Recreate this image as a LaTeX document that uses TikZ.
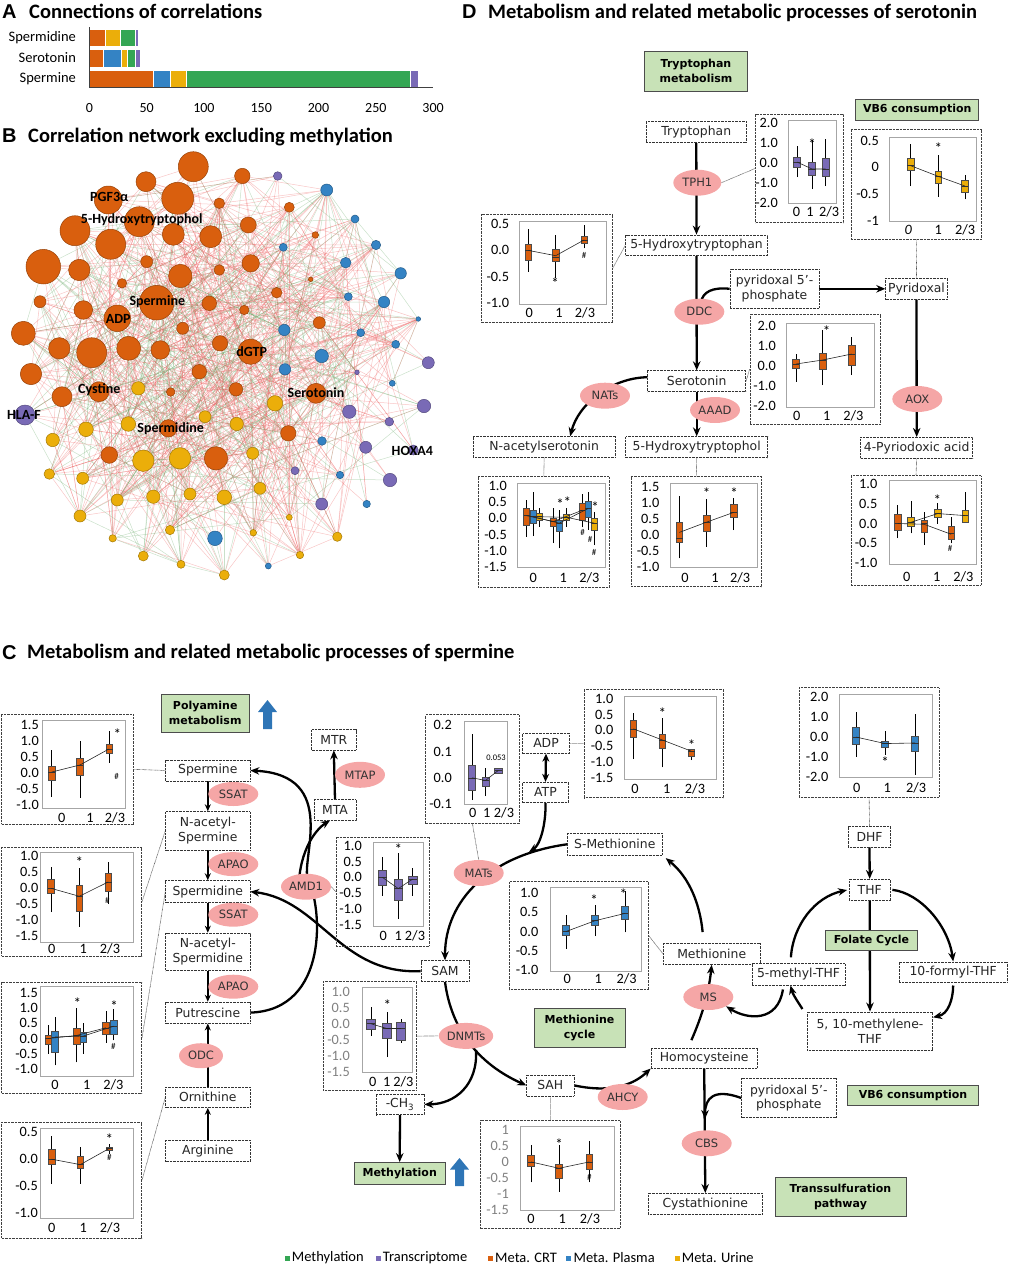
\documentclass[tikz,border=0pt]{standalone}
\usepackage{fontspec}
\setmainfont{Carlito}
\newfontfamily\vfont{DejaVu Sans}
\newfontfamily\lfont{Liberation Sans}
\usetikzlibrary{positioning,shapes.geometric,arrows.meta,fit,backgrounds}

\definecolor{cO}{RGB}{217,95,14}
\definecolor{cB}{RGB}{52,131,196}
\definecolor{cG}{RGB}{52,166,84}
\definecolor{cY}{RGB}{235,174,10}
\definecolor{cP}{RGB}{121,106,182}
\definecolor{pinkE}{RGB}{245,166,166}
\definecolor{gBox}{RGB}{200,226,183}
\definecolor{upBlue}{RGB}{46,117,182}
\definecolor{eRed}{RGB}{236,96,96}
\definecolor{eGreen}{RGB}{105,170,105}

% box plot: x, low whisker, box low, median, box high, high whisker, colour
\newcommand{\bw}{3.4}
\newcommand{\bp}[7]{%
  \draw[line width=0.5pt] (#1,#2) -- (#1,#6);
  \filldraw[fill=#7, draw=black!70, line width=0.5pt] ({#1-\bw},#3) rectangle ({#1+\bw},#5);
  \draw[black!80, line width=0.5pt] ({#1-\bw},#4) -- ({#1+\bw},#4);}
\newcommand{\xtk}[4]{%
  \node[xtk] at (#2,#1) {0};
  \node[xtk] at (#3,#1) {1};
  \node[xtk] at (#4,#1) {2/3};}
\newcommand{\ytk}[3][]{%
  \foreach \yv/\yt in {#3} \node[ytk,#1] at (#2,\yv) {\yt};}

\begin{document}
\begin{tikzpicture}[x=1pt, y=-1pt,
  mbox/.style={draw=black!80, dash pattern=on 0.8pt off 0.6pt, line width=0.7pt, fill=white,
    font=\vfont\fontsize{12.4}{14.5}\selectfont, inner sep=0pt, align=center, text=black!85},
  enz/.style={ellipse, fill=pinkE, draw=none, minimum width=50pt, minimum height=26pt, inner sep=0pt,
    font=\vfont\fontsize{11.5}{12}\selectfont, text=black!80},
  gbox/.style={draw=black!70, line width=0.9pt, fill=gBox, align=center, inner sep=0pt,
    font=\vfont\bfseries\fontsize{11}{15}\selectfont},
  pbox/.style={draw=black!75, dash pattern=on 0.7pt off 0.7pt, line width=0.7pt, inner sep=0pt},
  frm/.style={draw=black!35, line width=0.8pt},
  lnk/.style={draw=black!70, dash pattern=on 0.6pt off 0.6pt, line width=0.6pt},
  rxn/.style={line width=2.3pt, -{Stealth[length=9pt,width=7.5pt]}},
  rxs/.style={line width=1.8pt, -{Stealth[length=7pt,width=6pt]}},
  mln/.style={black!85, line width=0.6pt},
  ytk/.style={anchor=east, inner sep=0pt, font=\fontsize{14.3}{14}\selectfont},
  xtk/.style={inner sep=0pt, font=\fontsize{14.3}{14}\selectfont},
  st/.style={inner sep=0pt, font=\fontsize{15}{15}\selectfont},
  hs/.style={inner sep=0pt, font=\fontsize{9}{9}\selectfont},
  ltr/.style={inner sep=0pt, font=\lfont\bfseries\fontsize{20}{20}\selectfont},
  ttl/.style={inner sep=0pt, font=\bfseries\fontsize{20.5}{22}\selectfont},
  nd/.style={circle, inner sep=0pt, line width=0.5pt},
  nlab/.style={inner sep=0pt, font=\bfseries\fontsize{14}{14}\selectfont},
  edg/.style={line width=0.5pt, opacity=0.36},
  bseg/.style={draw=white, line width=0.6pt},
  btk/.style={inner sep=0pt, font=\fontsize{14}{14}\selectfont},
  blab/.style={anchor=east, inner sep=0pt, font=\fontsize{14.5}{15}\selectfont},
  lgsq/.style={minimum size=5pt, inner sep=0pt},
  lgtx/.style={inner sep=0pt, font=\fontsize{14.5}{15}\selectfont}]
\useasboundingbox (0,0) rectangle (1017,1266);

% ---------------- A: bar chart
\node[ltr, anchor=base west] (lA) at (2,18) {A};
\node[ttl, anchor=base west] (tA) at (29,18) {Connections of correlations};
\begin{scope}[shift={(89.3,0)}, x=1.146pt]
  \fill[bseg, fill=cO] (0,29) rectangle (14,46.7);
  \fill[bseg, fill=cY] (14,29) rectangle (27.4,46.7);
  \fill[bseg, fill=cG] (27.4,29) rectangle (39.9,46.7);
  \fill[bseg, fill=cP] (39.9,29) rectangle (42.5,46.7);
  \fill[bseg, fill=cO] (0,49) rectangle (12.2,67);
  \fill[bseg, fill=cB] (12.2,49) rectangle (28.3,67);
  \fill[bseg, fill=cY] (28.3,49) rectangle (33.5,67);
  \fill[bseg, fill=cG] (33.5,49) rectangle (40.5,67);
  \fill[bseg, fill=cP] (40.5,49) rectangle (44.8,67);
  \fill[bseg, fill=cO] (0,70) rectangle (56.2,87);
  \fill[bseg, fill=cB] (56.2,70) rectangle (70.4,87);
  \fill[bseg, fill=cY] (70.4,70) rectangle (85,87);
  \fill[bseg, fill=cG] (85,70) rectangle (280.4,87);
  \fill[bseg, fill=cP] (280.4,70) rectangle (286.8,87);
  \draw[black!75, line width=0.8pt] (0,27) -- (0,87.5) -- (300,87.5);
  \foreach \v in {0,50,...,300} \node[btk] at (\v,108) {\v};
  \node[blab] (bSpd) at (-11.5,38) {Spermidine};
  \node[blab] (bSer) at (-11.5,58) {Serotonin};
  \node[blab] (bSpm) at (-11.5,78.5) {Spermine};
\end{scope}

% ---------------- B: network
\node[ltr, anchor=base west] (lB) at (2,142.5) {B};
\node[ttl, anchor=base west] (tB) at (28,142) {Correlation network excluding methylation};
\foreach \x/\y/\r/\c [count=\i] in {
  193.3/166.7/15/cO, 146/181.7/10/cO, 242.3/176/7.7/cO, 177.7/198.3/16/cO, 108.3/200/14/cO,
  219.3/203.3/5.3/cO, 289.3/207.3/5/cO, 75/230.7/15/cO, 139.3/221.7/15/cO, 173.3/234.3/11/cO,
  210.7/236.7/11/cO, 248.3/225/8/cO, 110.7/244.3/15/cO, 43.3/266.7/17.3/cO, 79.3/270/10.7/cO,
  146.7/261.7/6/cO, 180.3/276/11.7/cO, 219.3/270/5.3/cO, 250.7/263.3/8.7/cO, 315.3/235/3.3/cO,
  122/283.3/4.7/cO, 156.7/302.7/17.3/cO, 40/301.7/6/cO, 83.3/310/9.3/cO, 117.3/318.3/13.3/cO,
  209.3/303.3/7.3/cO, 244.3/310/4.7/cO, 276.7/292.7/5.3/cO, 310.7/279.3/2.3/cO, 23.3/333.3/12/cO,
  182.7/328.3/6/cO, 59.3/348.3/10.7/cO, 91.7/352.7/15/cO, 128.7/348.3/12/cO, 160.3/350/9.3/cO,
  220/343.3/7.7/cO, 250.7/351.7/12.7/cO, 319.3/322.7/6/cO, 31/374/10.7/cO, 199.3/371.7/7.3/cO,
  62/396.7/10/cO, 99/391.7/10/cO, 170.7/392/4.3/cO, 236/389.3/6.7/cO, 316/393.3/10/cO,
  168.3/428.3/8.7/cO, 288.3/433.3/7.7/cO, 109.3/455/8.3/cO, 216/458.3/11.7/cO,
  138.3/388.3/6.7/cY, 275/403.3/7.7/cY, 52.7/440/6.7/cY, 86/429.3/7.3/cY, 128.3/424/7.3/cY,
  205/416.7/6/cY, 236.7/424/6.7/cY, 143.3/460.7/10.7/cY, 180/458.3/10.7/cY, 252.7/453.3/6/cY,
  49.3/474/5.3/cY, 82.7/478.3/6/cY, 117.3/500/6/cY, 153.3/496.7/6.7/cY, 190/494/6/cY,
  224.3/497.3/7.3/cY, 260/488.3/6/cY, 80/516/6/cY, 170/530/4.7/cY, 112.7/538.3/3.7/cY,
  143.3/556/5/cY, 181/564.3/4/cY, 224.3/575/5/cY, 253.3/532.7/3.3/cY, 289.3/517.3/3/cY,
  300/555/3.7/cY, 337.3/536.7/4.7/cY,
  326.7/190/6/cB, 355/219/4/cB, 283.3/247.3/4/cB, 376/245/4.7/cB, 345.7/262.7/5.3/cB,
  400.7/273.3/5.7/cB, 348.3/296.7/4/cB, 384/302/5.7/cB, 418.3/319/2.3/cB, 284.3/330/5.7/cB,
  360.7/332.7/4/cB, 395.7/344.3/4/cB, 321.7/356/6.7/cB, 285/369.3/5.7/cB, 392.3/383.3/3/cB,
  322/441/4.3/cB, 340/475/3.7/cB, 366.7/504/3.7/cB, 215/538.3/7.3/cB, 268.3/566/3/cB,
  277.7/176/4.3/cP, 25/415/10/cP, 428.3/362.7/6/cP, 357/372.3/2.3/cP, 349.3/411.7/6.7/cP,
  424/406/6.7/cP, 389.3/421.7/4.3/cP, 365.7/447.3/6/cP, 413.3/450/5/cP, 295/470.7/4/cP,
  390/480/6.7/cP, 321.7/504/6/cP}
  \node[nd, fill=\c, draw=\c!70!black, minimum size=2*\r] (n\i) at (\x,\y) {};
\begin{scope}[on background layer]
  \pgfmathsetseed{11}
  \foreach \k in {1,...,850}{
    \pgfmathrandominteger{\ea}{1}{108}
    \pgfmathrandominteger{\eb}{1}{90}
    \pgfmathrandominteger{\ec}{0}{2}
    \ifnum\ea=\eb\relax\else
      \ifnum\ec=0 \draw[edg, eGreen] (n\ea) -- (n\eb);
      \else \draw[edg, eRed] (n\ea) -- (n\eb); \fi
    \fi}
\end{scope}
\node[nlab] (kPgf) at (109.3,197.3) {PGF3α};
\node[nlab] (kHtol) at (141.7,220) {5-Hydroxytryptophol};
\node[nlab] (kSpm) at (157.3,301.7) {Spermine};
\node[nlab] (kAdp) at (118.3,319) {ADP};
\node[nlab] (kDgtp) at (251.7,351.7) {dGTP};
\node[nlab] (kCys) at (99.3,389.3) {Cystine};
\node[nlab] (kSer) at (316,392.7) {Serotonin};
\node[nlab] (kHla) at (24,415) {HLA-F};
\node[nlab] (kSpd) at (170.7,428.3) {Spermidine};
\node[nlab] (kHox) at (412.3,451) {HOXA4};

% ---------------- D: serotonin
\node[ltr, anchor=base west] (lD) at (462,18) {D};
\node[ttl, anchor=base west] (tD) at (488,18) {Metabolism and related metabolic processes of serotonin};
\node[gbox, minimum width=103.4, minimum height=39.3] (gTrp) at (696,71.3) {Tryptophan\\metabolism};
\node[gbox, minimum width=123, minimum height=20.7] (gVb1) at (917.2,109.7) {VB6 consumption};
\node[mbox, minimum width=100.7, minimum height=21] (trp) at (696.3,132.2) {Tryptophan};
\node[mbox, minimum width=141.7, minimum height=20.7] (htp) at (696.5,245.3) {5-Hydroxytryptophan};
\node[mbox, minimum width=89, minimum height=39] (plp1) at (774.5,288.8) {pyridoxal 5’-\\phosphate};
\node[mbox, minimum width=61.7, minimum height=21] (pyr) at (916.5,288.8) {Pyridoxal};
\node[mbox, minimum width=98, minimum height=21] (ser) at (696.7,381.2) {Serotonin};
\node[mbox, minimum width=141.7, minimum height=20.7] (nas) at (544.2,447) {N-acetylserotonin};
\node[mbox, minimum width=142, minimum height=21] (htol) at (696.7,447.2) {5-Hydroxytryptophol};
\node[mbox, minimum width=112, minimum height=21] (pa) at (916.7,447.8) {4-Pyriodoxic acid};
\node[enz, minimum width=48pt] (tph) at (697.3,182.7) {TPH1};
\node[enz] (ddc) at (699.3,311.7) {DDC};
\node[enz] (nat) at (605,395.7) {NATs};
\node[enz] (aaad) at (715,410) {AAAD};
\node[enz] (aox) at (917.3,399) {AOX};

% TPH1 plot
\node[pbox, fit={(755.7,114) (843,222.7)}] (pTph) {};
\draw[frm] (788,120) rectangle (836,203);
\begin{scope}[shift={(0,163)}, y=20pt]
  \renewcommand{\bw}{3.7}
  \ytk{778}{2/2.0,1/1.0,0/0.0,-1/-1.0,-2/-2.0}
  \bp{797}{-0.7}{-0.2}{0.05}{0.3}{0.85}{cP}
  \bp{812}{-1.3}{-0.6}{-0.3}{0.05}{1.15}{cP}
  \bp{825.5}{-1.15}{-0.65}{-0.3}{0.25}{1.2}{cP}
  \draw[mln] (797,0.05) -- (812,-0.3) -- (825.5,-0.3);
  \node[st] at (812,0.95) {*};
\end{scope}
\xtk{212}{796.5}{810}{829}

% 5-hydroxytryptophan plot
\node[pbox, fit={(481.7,214) (612.3,322.7)}] (pHtp) {};
\draw[frm] (519.3,221) rectangle (606.7,304);
\begin{scope}[shift={(0,250.4)}, y=52.9pt]
  \ytk{509.3}{0.5/0.5,0/0.0,-0.5/-0.5,-1/-1.0}
  \bp{528.3}{-0.4}{-0.18}{0}{0.115}{0.4}{cO}
  \bp{555.7}{-0.52}{-0.2}{-0.12}{0.02}{0.3}{cO}
  \bp{584.3}{0.04}{0.13}{0.2}{0.27}{0.48}{cO}
  \draw[mln] (528.3,0) -- (555.7,-0.1) -- (584.3,0.2);
  \node[st] at (555,-0.62) {*};
  \node[hs] at (584,-0.1) {\#};
\end{scope}
\xtk{313.3}{529.3}{559}{585}

% VB6 plot
\node[pbox, fit={(851,129) (981.7,239)}] (pVb) {};
\draw[frm] (889,137.3) rectangle (976,221.7);
\begin{scope}[shift={(0,167.3)}, y=53.5pt]
  \ytk{879}{0.5/0.5,0/0,-0.5/-0.5,-1/-1}
  \bp{910.7}{-0.35}{-0.06}{0.03}{0.17}{0.43}{cY}
  \bp{938.3}{-0.55}{-0.3}{-0.17}{-0.08}{0.23}{cY}
  \bp{965}{-0.6}{-0.47}{-0.35}{-0.24}{-0.14}{cY}
  \draw[mln] (910.7,0.03) -- (938.3,-0.17) -- (965,-0.35);
  \node[st] at (938.3,0.35) {*};
\end{scope}
\node[xtk] at (908.3,230) {\itshape 0};
\node[xtk] at (938.3,230) {1};
\node[xtk] at (965,230) {2/3};

% serotonin plot
\node[pbox, fit={(750,314.3) (880.7,424)}] (pSer) {};
\draw[frm] (786.7,323.3) rectangle (874,407.3);
\begin{scope}[shift={(0,366)}, y=20pt]
  \ytk{776}{2/2.0,1/1.0,0/0.0,-1/-1.0,-2/-2.0}
  \bp{796}{-0.78}{-0.12}{0.1}{0.33}{0.6}{cO}
  \bp{822.7}{-0.95}{-0.15}{0.3}{0.63}{1.8}{cO}
  \bp{851.7}{-0.45}{0.02}{0.6}{1.05}{1.47}{cO}
  \draw[mln] (796,0.1) -- (822.7,0.3) -- (851.7,0.6);
  \node[st] at (826.5,1.75) {*};
\end{scope}
\xtk{416}{796.7}{826.7}{853.3}

% N-acetylserotonin plot
\node[pbox, fit={(478.3,476.7) (609.3,587.3)}] (pNas) {};
\draw[frm] (517.7,483.3) rectangle (605,567.3);
\begin{scope}[shift={(0,518.3)}, y=32.3pt]
  \renewcommand{\bw}{3}
  \ytk{507}{1/1.0,0.5/0.5,0/0.0,-0.5/-0.5,-1/-1.0,-1.5/-1.5}
  \bp{526.7}{-0.57}{-0.21}{0.08}{0.31}{0.57}{cO}
  \bp{533}{-0.55}{-0.15}{0.05}{0.26}{0.82}{cB}
  \bp{538.8}{-0.26}{-0.05}{0.05}{0.15}{0.31}{cY}
  \bp{553.3}{-0.77}{-0.26}{-0.1}{0}{0.31}{cO}
  \bp{559.3}{-0.93}{-0.41}{-0.15}{-0.05}{0.26}{cB}
  \bp{566.7}{-0.26}{-0.05}{0.03}{0.12}{0.31}{cY}
  \bp{582.3}{-0.28}{-0.05}{0.25}{0.46}{0.75}{cO}
  \bp{588}{-0.36}{0.02}{0.3}{0.54}{0.82}{cB}
  \bp{594.2}{-0.83}{-0.36}{-0.15}{0}{0.2}{cY}
  \draw[mln] (526.7,0.08) -- (553.3,-0.1) -- (582.3,0.25);
  \draw[mln] (533,0.05) -- (559.3,-0.15) -- (588,0.3);
  \draw[mln] (538.8,0.05) -- (566.7,0.03) -- (594.2,-0.15);
  \node[st] at (560,0.44) {*};
  \node[st] at (567.3,0.51) {*};
  \node[st] at (595,0.34) {*};
  \node[hs] at (582.7,-0.45) {\#};
  \node[hs] at (590,-0.65) {\#};
  \node[hs] at (594,-1.07) {\#};
\end{scope}
\xtk{578.3}{533.3}{563.3}{589.3}

% 5-hydroxytryptophol plot
\node[pbox, fit={(631,476.7) (761.7,586.7)}] (pHtol) {};
\draw[frm] (670,483.3) rectangle (757.7,567.3);
\begin{scope}[shift={(0,535)}, y=32.3pt]
  \ytk{659.5}{1.5/1.5,1/1.0,0.5/0.5,0/0.0,-0.5/-0.5,-1/-1.0}
  \bp{679.3}{-0.72}{-0.21}{-0.1}{0.38}{1.21}{cO}
  \bp{706.7}{-0.36}{0.13}{0.4}{0.62}{1.1}{cO}
  \bp{733.7}{0.15}{0.55}{0.7}{0.95}{1.14}{cO}
  \draw[mln] (679.3,0.08) -- (706.7,0.4) -- (733.7,0.7);
  \node[st] at (706.7,1.28) {*};
  \node[st] at (734,1.3) {*};
\end{scope}
\xtk{578.3}{685}{715}{740}

% 4-pyridoxic acid plot
\node[pbox, fit={(851,475.7) (981,585)}] (pPa) {};
\draw[frm] (889,480.7) rectangle (976.7,564);
\begin{scope}[shift={(0,523.5)}, y=39.7pt]
  \renewcommand{\bw}{3.2}
  \ytk{877.5}{1/1.0,0.5/0.5,0/0.0,-0.5/-0.5,-1/-1.0}
  \bp{897.7}{-0.37}{-0.16}{0}{0.23}{0.47}{cO}
  \bp{910.8}{-0.25}{-0.08}{0.03}{0.17}{0.57}{cY}
  \bp{924.2}{-0.54}{-0.21}{0}{0.09}{0.3}{cO}
  \bp{937.7}{0}{0.16}{0.25}{0.37}{0.51}{cY}
  \bp{951}{-0.5}{-0.4}{-0.25}{-0.06}{0.17}{cO}
  \bp{965}{0.02}{0.02}{0.2}{0.34}{0.8}{cY}
  \draw[mln] (897.7,0) -- (924.2,-0.02) -- (951,-0.27);
  \draw[mln] (910.8,0.03) -- (937.7,0.25) -- (965,0.2);
  \node[st] at (937.3,0.58) {*};
  \node[hs] at (950,-0.63) {\#};
\end{scope}
\xtk{576.7}{906.7}{936.7}{963.3}

% ---------------- C: spermine
\node[ltr, anchor=base west] (lC) at (2,659) {C};
\node[ttl, anchor=base west] (tC) at (27,658) {Metabolism and related metabolic processes of spermine};
\node[gbox, minimum width=88.3, minimum height=37.6] (gPoly) at (205.2,713.2) {Polyamine\\metabolism};
\node[mbox, minimum width=84.3, minimum height=21] (spm) at (207.8,770.5) {Spermine};
\node[mbox, minimum width=84.3, minimum height=38.4] (nspm) at (207.8,830.8) {N-acetyl-\\Spermine};
\node[mbox, minimum width=84.3, minimum height=21.9] (spd) at (207.8,891.6) {Spermidine};
\node[mbox, minimum width=84.3, minimum height=37.5] (nspd) at (207.8,951.8) {N-acetyl-\\Spermidine};
\node[mbox, minimum width=84.3, minimum height=21] (put) at (207.8,1012.6) {Putrescine};
\node[mbox, minimum width=84.3, minimum height=20.3] (orn) at (207.8,1097.3) {Ornithine};
\node[mbox, minimum width=84.3, minimum height=21.8] (arg) at (207.8,1150.9) {Arginine};
\node[enz, minimum height=24pt] (ssat1) at (233.3,794) {SSAT};
\node[enz, minimum height=24pt] (apao1) at (233.3,864.1) {APAO};
\node[enz, minimum height=24pt] (ssat2) at (233.3,914.7) {SSAT};
\node[enz, minimum height=24pt] (apao2) at (233.3,986.7) {APAO};
\node[enz, minimum width=44pt, minimum height=25pt] (odc) at (201,1055.7) {ODC};

\node[mbox, minimum width=44.3, minimum height=20.4] (mtr) at (333.8,739.8) {MTR};
\node[mbox, minimum width=42, minimum height=20.4] (mta) at (335,809.8) {MTA};
\node[mbox, minimum width=46.6, minimum height=20] (adp) at (546,743.3) {ADP};
\node[mbox, minimum width=45.6, minimum height=20.4] (atp) at (545.5,792.4) {ATP};
\node[mbox, minimum width=95, minimum height=21.9] (smet) at (614.8,844.3) {S-Methionine};
\node[mbox, minimum width=48, minimum height=20.8] (sam) at (445,971.1) {SAM};
\node[mbox, minimum width=47.3, minimum height=21.1] (sah) at (550.3,1085.4) {SAH};
\node[mbox, minimum width=48, minimum height=20.7] (ch) at (400,1104.4) {-CH\textsubscript{3}};
\node[gbox, minimum width=90.7, minimum height=21.5] (gMeth) at (399.7,1173.3) {Methylation};
\node[gbox, minimum width=91, minimum height=39] (gMet) at (579.5,1027.5) {Methionine\\cycle};
\node[mbox, minimum width=96.7, minimum height=21.1] (met) at (711.7,953.9) {Methionine};
\node[mbox, minimum width=106.3, minimum height=20.3] (hcy) at (704.2,1058) {Homocysteine};
\node[mbox, minimum width=94.3, minimum height=38.9] (plp2) at (788.8,1098) {pyridoxal 5’-\\phosphate};
\node[gbox, minimum width=130.6, minimum height=20] (gVb2) at (913,1095.2) {VB6 consumption};
\node[mbox, minimum width=114, minimum height=21.1] (cys) at (705.3,1203.9) {Cystathionine};
\node[gbox, minimum width=131, minimum height=38.5] (gTrans) at (840.5,1197) {Transsulfuration\\pathway};
\node[mbox, minimum width=42.4, minimum height=20.3] (dhf) at (869.5,836.8) {DHF};
\node[mbox, minimum width=40.7, minimum height=20.7] (thf) at (869.7,889.6) {THF};
\node[gbox, minimum width=91.6, minimum height=20.3] (gFol) at (871.5,940.5) {Folate Cycle};
\node[mbox, minimum width=108.3, minimum height=20.3] (fthf) at (953.2,972) {10-formyl-THF};
\node[mbox, minimum width=125.4, minimum height=38.8] (mthf) at (870,1031.3) {5, 10-methylene-\\THF};
\node[mbox, minimum width=93, minimum height=21.5] (methf) at (798.5,974.4) {5-methyl-THF};
\node[enz] (mtap) at (360,774.8) {MTAP};
\node[enz] (amd) at (306,886.7) {AMD1};
\node[enz] (mat) at (478.7,873) {MATs};
\node[enz, minimum width=54pt] (dnmt) at (466,1035.9) {DNMTs};
\node[enz] (ahcy) at (622.7,1097) {AHCY};
\node[enz] (ms) at (708.3,997) {MS};
\node[enz] (cbs) at (706.7,1143.3) {CBS};
\coordinate (amdj) at (299,880);
\coordinate (atpj) at (529,852);
\coordinate (dnj) at (476,1050);
\coordinate (cbsj) at (705,1119);

% blue up arrows
\fill[upBlue] (263,729) -- (263,712) -- (258,712) -- (267.5,700) -- (277,712) -- (272,712) -- (272,729) -- cycle;
\fill[upBlue] (455,1186) -- (455,1169.5) -- (450,1169.5) -- (459.5,1158) -- (469,1169.5) -- (464,1169.5) -- (464,1186) -- cycle;

% spermine plot
\node[pbox, fit={(1.7,714.7) (133.3,823.9)}] (pSpm) {};
\draw[frm] (42.7,720.5) rectangle (125,808.6);
\begin{scope}[shift={(0,773)}, y=32.2pt]
  \ytk{39}{1.5/1.5,1/1.0,0.5/0.5,0/0.0,-0.5/-0.5,-1/-1.0}
  \bp{51.7}{-0.73}{-0.21}{0.03}{0.2}{0.7}{cO}
  \bp{80}{-0.77}{-0.06}{0.25}{0.46}{0.98}{cO}
  \bp{109.2}{0.32}{0.6}{0.75}{0.89}{1.31}{cO}
  \draw[mln] (51.7,0.03) -- (80,0.25) -- (109.2,0.75);
  \node[st] at (117.3,1.2) {*};
  \node[hs] at (116.7,-0.1) {\#};
\end{scope}
\xtk{818}{61.7}{90}{115}

% N-acetyl-spermine plot
\node[pbox, fit={(1.7,846.9) (141.7,956)}] (pNspm) {};
\draw[frm] (40.7,852.6) rectangle (133,942);
\begin{scope}[shift={(0,888.3)}, y=31.9pt]
  \ytk{38.5}{1/1.0,0.5/0.5,0/0.0,-0.5/-0.5,-1/-1.0,-1.5/-1.5}
  \bp{51}{-0.75}{-0.14}{0}{0.28}{0.66}{cO}
  \bp{79.3}{-1.2}{-0.72}{-0.25}{0.1}{0.64}{cO}
  \bp{108.3}{-0.48}{-0.08}{0.2}{0.46}{0.84}{cO}
  \draw[mln] (51,0) -- (79.3,-0.25) -- (108.3,0.2);
  \node[st] at (79.3,0.82) {*};
  \node[hs] at (107.3,-0.38) {\#};
\end{scope}
\xtk{948.5}{51.7}{83.3}{110}

% spermidine plot
\node[pbox, fit={(1.7,982.1) (141.7,1093.3)}] (pSpd) {};
\draw[frm] (40,986.7) rectangle (133,1076.6);
\begin{scope}[shift={(0,1038.5)}, y=30.7pt]
  \renewcommand{\bw}{3.3}
  \ytk{38}{1.5/1.5,1/1.0,0.5/0.5,0/0.0,-0.5/-0.5,-1/-1.0}
  \bp{48.3}{-0.5}{-0.19}{0}{0.1}{0.44}{cO}
  \bp{55}{-0.875}{-0.44}{0.05}{0.25}{0.69}{cB}
  \bp{76.7}{-0.78}{-0.19}{0.1}{0.34}{1.0}{cO}
  \bp{83.3}{-0.5}{-0.12}{0.08}{0.19}{0.5}{cB}
  \bp{106}{-0.13}{0.13}{0.35}{0.54}{0.9}{cO}
  \bp{113.7}{-0.06}{0.13}{0.4}{0.6}{0.96}{cB}
  \draw[mln] (48.3,0) -- (76.7,0.1) -- (106,0.35);
  \draw[mln] (55,0.05) -- (83.3,0.08) -- (113.7,0.4);
  \node[st] at (77.3,1.16) {*};
  \node[st] at (114,1.04) {*};
  \node[hs] at (113.3,-0.25) {\#};
\end{scope}
\xtk{1084.4}{55}{86.7}{113.3}

% ornithine plot
\node[pbox, fit={(1.7,1122) (141.7,1238)}] (pOrn) {};
\draw[frm] (40,1128.5) rectangle (133,1218);
\begin{scope}[shift={(0,1159.2)}, y=54pt]
  \ytk{38}{0.5/0.5,0/0.0,-0.5/-0.5,-1/-1.0}
  \bp{51.7}{-0.45}{-0.09}{0}{0.18}{0.43}{cO}
  \bp{80.3}{-0.45}{-0.16}{-0.1}{0.05}{0.23}{cO}
  \bp{109.3}{0.1}{0.16}{0.2}{0.23}{0.28}{cO}
  \draw[mln] (51.7,0) -- (80.3,-0.1) -- (109.3,0.2);
  \node[st] at (109.3,0.38) {*};
  \node[hs] at (109.3,0.03) {\#};
\end{scope}
\xtk{1228}{51.7}{83.3}{110}

% AMD1 plot
\node[pbox, fit={(336,837) (429.3,946)}] (pAmd) {};
\draw[frm] (373.3,842.6) rectangle (423.3,926.7);
\begin{scope}[shift={(0,877.4)}, y=31.9pt]
  \renewcommand{\bw}{4.2}
  \ytk{362}{1/1.0,0.5/0.5,0/0.0,-0.5/-0.5,-1/-1.0,-1.5/-1.5}
  \bp{382.5}{-0.58}{-0.24}{0}{0.22}{0.64}{cP}
  \bp{398.3}{-1.31}{-0.73}{-0.35}{-0.06}{0.76}{cP}
  \bp{412.7}{-0.58}{-0.21}{-0.05}{0.05}{0.31}{cP}
  \draw[mln] (382.5,0) -- (398.3,-0.35) -- (412.7,-0.05);
  \node[st] at (398.3,0.9) {*};
\end{scope}
\xtk{936}{383.3}{398.3}{415}

% MATs plot
\node[pbox, fit={(425.7,714.8) (519.3,823.7)}] (pMat) {};
\draw[frm] (464,721.1) rectangle (507.3,804.4);
\begin{scope}[shift={(0,777.8)}, y=263pt]
  \renewcommand{\bw}{3.7}
  \ytk{452}{0.2/0.2,0.1/0.1,0/0.0,-0.1/-0.1}
  \bp{472}{-0.085}{-0.048}{0}{0.046}{0.166}{cP}
  \bp{485.5}{-0.07}{-0.031}{-0.01}{0.004}{0.037}{cP}
  \bp{498.3}{0.018}{0.018}{0.028}{0.037}{0.037}{cP}
  \draw[mln] (472,0) -- (485.5,-0.01) -- (498.3,0.028);
  \node[inner sep=0pt, font=\fontsize{8.5}{8}\selectfont] (pv) at (496,0.075) {0.053};
\end{scope}
\xtk{812.6}{472.7}{486.7}{504}

% ADP plot
\node[pbox, fit={(584.3,688.9) (723.3,797.8)}] (pAdp) {};
\draw[frm] (624,695.9) rectangle (716.7,779.6);
\begin{scope}[shift={(0,730.4)}, y=31.9pt]
  \ytk{613.5}{1/1.0,0.5/0.5,0/0.0,-0.5/-0.5,-1/-1.0,-1.5/-1.5}
  \bp{633.3}{-0.9}{-0.21}{0.05}{0.31}{0.55}{cO}
  \bp{662.3}{-1.16}{-0.55}{-0.3}{-0.12}{0.4}{cO}
  \bp{691.3}{-0.93}{-0.81}{-0.65}{-0.58}{-0.58}{cO}
  \draw[mln] (633.3,0.05) -- (662.3,-0.3) -- (691.3,-0.65);
  \node[st] at (662.3,0.54) {*};
  \node[st] at (691.7,-0.45) {*};
\end{scope}
\xtk{788.5}{635}{666.7}{695}

% methionine plot
\node[pbox, fit={(509.3,881.5) (648.3,989.6)}] (pMet) {};
\draw[frm] (550,887.8) rectangle (641.7,971.1);
\begin{scope}[shift={(0,931.5)}, y=38.5pt]
  \ytk{538.5}{1/1.0,0.5/0.5,0/0.0,-0.5/-0.5,-1/-1.0}
  \bp{566}{-0.45}{-0.09}{0}{0.17}{0.43}{cB}
  \bp{595}{-0.12}{0.17}{0.28}{0.41}{0.7}{cB}
  \bp{625}{-0.02}{0.32}{0.47}{0.65}{1.04}{cB}
  \draw[mln] (566,0) -- (595,0.28) -- (625,0.47);
  \node[st] at (594,0.81) {*};
  \node[st] at (623.3,0.96) {*};
\end{scope}
\xtk{979.3}{567.3}{598.3}{626.7}

% DNMTs plot
\node[pbox, fit={(323.3,981.5) (416.7,1090.7)}] (pDnmt) {};
\draw[frm] (362.7,987.8) rectangle (412.7,1071.9);
\begin{scope}[shift={(0,1023.7)}, y=32.1pt]
  \renewcommand{\bw}{4.2}
  \ytk[text=black!50]{350}{1/1.0,0.5/0.5,0/0.0,-0.5/-0.5,-1/-1.0,-1.5/-1.5}
  \bp{370.8}{-0.38}{-0.18}{0}{0.14}{0.51}{cP}
  \bp{386.8}{-1.04}{-0.44}{-0.15}{0.02}{0.37}{cP}
  \bp{400.8}{-0.59}{-0.5}{-0.15}{0.05}{0.16}{cP}
  \draw[mln] (370.8,0) -- (386.8,-0.15) -- (400.8,-0.15);
  \node[st] at (387.3,0.58) {*};
\end{scope}
\xtk{1082}{372.7}{386.7}{403.3}

% SAH plot
\node[pbox, fit={(480.7,1120.4) (620,1228.5)}] (pSah) {};
\draw[frm] (520.7,1126.7) rectangle (614,1210);
\begin{scope}[shift={(0,1161.9)}, y=31.9pt]
  \ytk[text=black!50]{509}{1/1,0.5/0.5,0/0,-0.5/-0.5,-1/-1,-1.5/-1.5}
  \bp{531}{-0.64}{-0.15}{0}{0.2}{0.52}{cO}
  \bp{559}{-0.93}{-0.52}{-0.2}{-0.06}{0.52}{cO}
  \bp{589.3}{-0.64}{-0.23}{0}{0.23}{0.66}{cO}
  \draw[mln] (531,0) -- (559,-0.2) -- (589.3,0);
  \node[st] at (559,0.56) {*};
  \node[hs] at (589.3,-0.5) {\#};
\end{scope}
\xtk{1219.3}{531}{562.3}{590}

% DHF plot
\node[pbox, fit={(799.3,687.8) (939,797)}] (pDhf) {};
\draw[frm] (839.3,694) rectangle (932.7,777.8);
\begin{scope}[shift={(0,737)}, y=19.9pt]
  \renewcommand{\bw}{3.5}
  \ytk{828.5}{2/2.0,1/1.0,0/0.0,-1/-1.0,-2/-2.0}
  \bp{856}{-1.0}{-0.37}{0}{0.47}{1.27}{cB}
  \bp{885}{-0.88}{-0.5}{-0.33}{-0.19}{0.28}{cB}
  \bp{915}{-1.9}{-0.74}{-0.3}{0.06}{1.17}{cB}
  \draw[mln] (856,0) -- (885,-0.33) -- (915,-0.3);
  \node[st] at (885,-1.25) {*};
\end{scope}
\xtk{787.8}{856.7}{887.3}{916}

% ---------------- connectors (behind the boxes and enzymes)
\begin{scope}[on background layer]
  % D
  \draw[rxn] (trp.south) -- (htp.north);
  \draw[rxn] (htp.south) -- (ser.north);
  \draw[rxn] (ser.south) -- (htol.north);
  \draw[rxn] (pyr.south) -- (pa.north);
  \draw[rxn] (plp1.east) -- (pyr.west);
  \draw[line width=2.3pt] (plp1.west) .. controls (712,287) and (703,292) .. (701,302);
  \draw[rxn] ([yshift=4pt]ser.west) .. controls (610,378) and (578,405) .. ([xshift=26pt]nas.north);
  \draw[lnk] (tph.east) -- (pTph.west);
  \draw[lnk] (pHtp.east) -- (htp.west);
  \draw[lnk] (pVb.south) -- (pyr.north);
  \draw[lnk] (ser.east) -- (pSer.west);
  \draw[lnk] (nas.south) -- (pNas.north);
  \draw[lnk] (htol.south) -- (pHtol.north);
  \draw[lnk] (pa.south) -- (pPa.north);
  % C: polyamines
  \draw[rxs] (spm.south) -- (nspm.north);
  \draw[rxs] (nspm.south) -- (spd.north);
  \draw[rxs] (spd.south) -- (nspd.north);
  \draw[rxs] (nspd.south) -- (put.north);
  \draw[rxs] (orn.north) -- (put.south);
  \draw[rxs] (arg.north) -- (orn.south);
  \draw[rxn] (put.east) .. controls (330,1010) and (322,905) .. (308,880) .. controls (300,860) and (340,775) .. (spm.east);
  \draw[rxn] (sam.west) .. controls (340,975) and (320,900) .. (spd.east);
  \draw[rxn] (amdj) .. controls (302,845) and (318,828) .. ([xshift=-5pt]mta.south);
  \draw[rxn] (mta.north) -- (mtr.south);
  % C: methionine cycle
  \draw[rxn, {Stealth[length=8pt,width=7pt]}-{Stealth[length=8pt,width=7pt]}] (adp.south) -- (atp.north);
  \draw[rxn] (atp.south) .. controls (546,825) and (540,845) .. (atpj);
  \draw[rxn] (smet.west) .. controls (490,855) and (445,900) .. (sam.north);
  \draw[rxn] (sam.south) .. controls (450,1020) and (470,1060) .. (sah.west);
  \draw[rxn] (dnj) .. controls (478,1085) and (455,1104) .. (ch.east);
  \draw[rxn] (ch.south) -- (gMeth.north);
  \draw[rxn] (sah.east) .. controls (605,1092) and (630,1088) .. (hcy.south west);
  \draw[rxn, shorten <=8pt] ([xshift=-16pt]hcy.north) .. controls (698,1025) and (708,1000) .. (met.south);
  \draw[rxn, shorten <=11pt, shorten >=4pt] ([xshift=-8pt]met.north) .. controls (700,905) and (690,878) .. (smet.south east);
  \draw[rxn] (hcy.south) -- (cys.north);
  \draw[rxn] (plp2.west) .. controls (714,1088) and (705,1098) .. (cbsj);
  % C: folate cycle
  \draw[rxn] (dhf.south) -- (thf.north);
  \draw[rxn] (thf.south) -- (mthf.north);
  \draw[rxn, shorten <=2pt] (thf.east) .. controls (920,893) and (948,925) .. (fthf.north);
  \draw[rxn, shorten <=3pt] (fthf.south) .. controls (953,1000) and (948,1014) .. ([yshift=14pt]mthf.east);
  \draw[rxn, shorten <=3pt] ([xshift=-3pt]mthf.north west) .. controls (800,1005) and (793,995) .. ([xshift=-8pt]methf.south);
  \draw[rxn, shorten <=6pt, shorten >=2pt] ([xshift=-8pt]methf.north) .. controls (793,925) and (815,897) .. (thf.west);
  \draw[rxn, shorten <=4pt] ([xshift=-15pt]methf.south) .. controls (778,1022) and (748,1020) .. (ms.south east);
  % C: plot links
  \draw[lnk] (pSpm.east) -- (spm.west);
  \draw[lnk] (pNspm.east) -- (nspm.west);
  \draw[lnk] (pSpd.east) -- (spd.west);
  \draw[lnk] (pOrn.east) -- (orn.west);
  \draw[lnk] (amd.east) -- (pAmd.west);
  \draw[lnk] (pMat.south) -- (mat.north);
  \draw[lnk] (adp.east) -- (pAdp.west);
  \draw[lnk] (pMet.east) -- (met.west);
  \draw[lnk] (pDnmt.east) -- (dnmt.west);
  \draw[lnk] (sah.south) -- (pSah.north);
  \draw[lnk] (pDhf.south) -- (dhf.north);
\end{scope}

% ---------------- legend
\node[lgsq, fill=cG] (q1) at (287,1258) {};
\node[lgtx, right=2pt of q1] (t1) {Methylation};
\node[lgsq, fill=cP] (q2) at (378,1258) {};
\node[lgtx, right=2pt of q2] (t2) {Transcriptome};
\node[lgsq, fill=cO] (q3) at (490.3,1258) {};
\node[lgtx, right=2pt of q3] (t3) {Meta. CRT};
\node[lgsq, fill=cB] (q4) at (568.7,1258) {};
\node[lgtx, right=2pt of q4] (t4) {Meta. Plasma};
\node[lgsq, fill=cY] (q5) at (677,1258) {};
\node[lgtx, right=2pt of q5] (t5) {Meta. Urine};
\end{tikzpicture}
\end{document}
